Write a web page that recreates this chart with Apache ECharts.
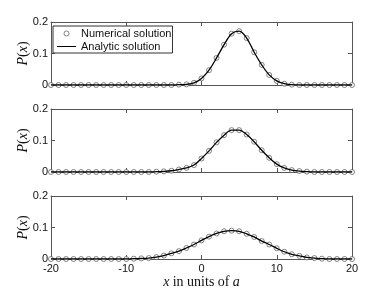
<!DOCTYPE html>
<html><head><meta charset="utf-8">
<script src="https://cdn.jsdelivr.net/npm/echarts@6/dist/echarts.min.js"></script>
<style>html,body{margin:0;padding:0;background:#fff}#c{width:389px;height:292px}</style>
</head><body><div id="c"></div>
<script>
const xs = [-20,-19,-18,-17,-16,-15,-14,-13,-12,-11,-10,-9,-8,-7,-6,-5,-4,-3,-2,-1,0,1,2,3,4,5,6,7,8,9,10,11,12,13,14,15,16,17,18,19,20];
const p1 = [0,0,0,0,0,0,0,0,0,0,0,0,0,0,0,0,0,0.001,0.002,0.007,0.021,0.047,0.086,0.128,0.163,0.171,0.149,0.104,0.064,0.032,0.013,0.004,0.001,0,0,0,0,0,0,0,0];
const p2 = [0,0,0,0,0,0,0,0,0,0,0,0,0,0,0.001,0.002,0.004,0.008,0.013,0.022,0.043,0.067,0.094,0.117,0.133,0.133,0.119,0.096,0.069,0.045,0.025,0.013,0.006,0.003,0.001,0,0,0,0,0,0];
const p3 = [0,0,0,0,0,0,0,0,0,0,0,0.001,0.002,0.003,0.006,0.011,0.018,0.025,0.035,0.046,0.059,0.071,0.081,0.088,0.090,0.088,0.080,0.070,0.057,0.046,0.034,0.023,0.015,0.010,0.005,0.003,0.001,0,0,0,0];
const xTicks = [-20,-10,0,10,20];
const yTicks = [0,0.1,0.2];
const panels = [p1,p2,p3];
const tops = [22,109,196];

const chart = echarts.init(document.getElementById('c'));
const frame = '#555';
const grid = [], xAxis = [], yAxis = [], series = [];
const sans = 'Liberation Sans';
const rich = {
  i:{fontFamily:'Liberation Serif',fontStyle:'italic',fontSize:14,color:'#111'},
  r:{fontFamily:'Liberation Serif',fontSize:14,color:'#111'}
};
panels.forEach((p,k)=>{
  grid.push({left:51,top:tops[k],width:301,height:63,show:false});
  const common = {type:'value',gridIndex:k,min:-20,max:20,interval:10,
    axisLine:{show:true,onZero:false,lineStyle:{color:frame,width:1}},
    axisTick:{show:true,inside:true,length:4,lineStyle:{color:frame}},
    splitLine:{show:false}};
  xAxis.push(Object.assign({},common,{position:'bottom',
    axisLabel:{show:k===2,fontFamily:sans,fontSize:11,color:'#111',margin:4},
    name:k===2?'{i|x} {r|in units of} {i|a}':'',nameLocation:'middle',nameGap:16,
    nameMoveOverlap:false,
    nameTextStyle:{rich:rich}}));
  xAxis.push(Object.assign({},common,{position:'top',axisLabel:{show:false}}));
  const yc = {type:'value',gridIndex:k,min:0,max:0.2,interval:0.1,
    axisLine:{show:true,onZero:false,lineStyle:{color:frame,width:1}},
    axisTick:{show:true,inside:true,length:4,lineStyle:{color:frame}},
    splitLine:{show:false}};
  yAxis.push(Object.assign({},yc,{position:'left',
    axisLabel:{show:true,fontFamily:sans,fontSize:11,color:'#111',margin:3,
      formatter:v=>v===0?'0':String(Math.round(v*10)/10)},
    name:'{i|P}{r|(}{i|x}{r|)}',nameLocation:'middle',nameGap:21,nameRotate:90,
    nameMoveOverlap:false,
    nameTextStyle:{rich:rich}}));
  yAxis.push(Object.assign({},yc,{position:'right',axisLabel:{show:false}}));
  const data = xs.map((x,i)=>[x,p[i]]);
  series.push({name:'Numerical solution',type:'scatter',xAxisIndex:2*k,yAxisIndex:2*k,
    data:data,symbol:'circle',symbolSize:5,
    itemStyle:{color:'#fff',borderColor:'#555',borderWidth:0.9},z:2,silent:true});
  series.push({name:'Analytic solution',type:'line',xAxisIndex:2*k,yAxisIndex:2*k,
    data:data,smooth:0.35,symbol:'none',
    lineStyle:{color:'#000',width:1.3},itemStyle:{color:'#000'},z:3,silent:true});
});

chart.setOption({
  animation:false,
  grid:grid,xAxis:xAxis,yAxis:yAxis,series:series,
  legend:{
    left:53,top:26,orient:'vertical',
    data:[{name:'Numerical solution',icon:'circle',
           itemStyle:{color:'#fff',borderColor:'#555',borderWidth:0.9}},
          {name:'Analytic solution',icon:'path://M0,-2H0.01V-1.99H0ZM0,0H22V1.1H0ZM0,3H0.01V3.01H0Z'}],
    itemWidth:19,itemHeight:5,itemGap:2,
    padding:[2,1,1,4],
    backgroundColor:'#fff',borderColor:'#333',borderWidth:1,borderRadius:0,
    textStyle:{fontFamily:sans,fontSize:11,color:'#111'},
    selectedMode:false
  }
});
</script></body></html>
